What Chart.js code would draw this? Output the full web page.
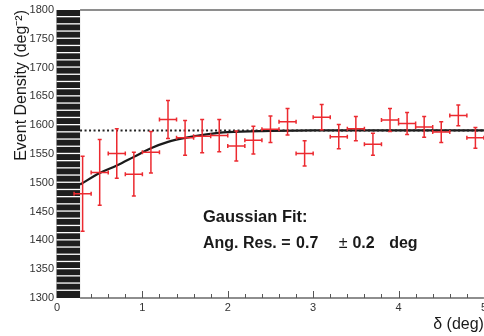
<!DOCTYPE html>
<html>
<head>
<meta charset="utf-8">
<script src="https://cdn.jsdelivr.net/npm/chart.js@4.4.1/dist/chart.umd.min.js"></script>
<style>
  html, body { margin: 0; padding: 0; background: #fff; overflow: hidden; }
  #wrap { width: 490px; height: 336px; }
</style>
</head>
<body>
<div id="wrap"><canvas id="myChart" width="490" height="336"></canvas></div>
<script>
// measured bins (delta, deg) and event density (deg^-2)
const binCenters = [0.3, 0.5, 0.7, 0.9, 1.1, 1.3, 1.5, 1.7, 1.9, 2.1, 2.3, 2.5,
                    2.7, 2.9, 3.1, 3.3, 3.5, 3.7, 3.9, 4.1, 4.3, 4.5, 4.7, 4.9];
const eventDensity = [1481, 1518, 1551, 1515, 1553, 1610, 1578, 1581, 1582, 1564, 1574, 1593,
                      1606, 1551, 1614, 1580, 1594, 1567, 1609, 1603, 1597, 1588, 1617, 1578];
const densityErr = [65, 57, 43, 38, 36, 33, 30, 29, 28, 26, 24, 23,
                    23, 22, 22, 21, 21, 19, 20, 19, 18, 18, 18, 18];
const binHalfWidth = 0.1;

// gaussian fit curve
const fitX = [0.27, 0.5, 0.7, 0.9, 1.1, 1.3, 1.5, 1.75, 2.0, 2.5, 3.0, 4.0, 5.0];
const fitY = [1497, 1517, 1530, 1545, 1560, 1571, 1578, 1584, 1588, 1590, 1591, 1591, 1591];

const plateau = 1591;
const excludedMax = 0.27;

const xTickValues = [0, 1, 2, 3, 4, 5];
const yTickValues = [1300, 1350, 1400, 1450, 1500, 1550, 1600, 1650, 1700, 1750, 1800];

Chart.defaults.font.family = '"Liberation Sans", Arial, Helvetica, sans-serif';
Chart.defaults.color = '#333';

const ctx = document.getElementById('myChart').getContext('2d');

const framePlugin = {
  id: 'frame',
  beforeDatasetsDraw(chart) {
    const { ctx, chartArea: a, scales: { x, y } } = chart;
    const x0 = x.getPixelForValue(0);
    const x1 = x.getPixelForValue(excludedMax);
    ctx.save();
    // hatched excluded region
    ctx.fillStyle = '#1e1e1e';
    ctx.fillRect(x0 - 0.5, a.top, x1 - x0 + 0.5, a.bottom - a.top);
    ctx.fillStyle = '#fff';
    const n = 40;
    const step = (a.bottom - a.top) / n;
    for (let i = 1; i < n; i++) {
      ctx.fillRect(x0 - 0.5, a.top + i * step - 1.2, x1 - x0 + 0.5, 1.3);
    }
    // frame lines
    ctx.strokeStyle = '#6a6a6a';
    ctx.lineWidth = 1.3;
    ctx.beginPath();
    ctx.moveTo(x1, a.top);
    ctx.lineTo(a.right, a.top);
    ctx.moveTo(x1, a.bottom);
    ctx.lineTo(a.right, a.bottom);
    ctx.stroke();
    // ticks pointing inward
    ctx.strokeStyle = '#555';
    ctx.lineWidth = 1;
    ctx.beginPath();
    for (let k = 0; k <= 25; k++) {
      const v = k / 5;
      if (v <= excludedMax) continue;
      const px = Math.round(x.getPixelForValue(v)) + 0.5;
      const len = k % 5 === 0 ? 7 : 4;
      ctx.moveTo(px, a.bottom);
      ctx.lineTo(px, a.bottom - len);
    }
    ctx.stroke();
    ctx.restore();
  },
  afterDatasetsDraw(chart) {
    const { ctx, scales: { x, y } } = chart;
    ctx.save();
    ctx.strokeStyle = '#ec2a30';
    ctx.lineWidth = 1.5;
    ctx.beginPath();
    binCenters.forEach((c, i) => {
      const px = x.getPixelForValue(c);
      const py = y.getPixelForValue(eventDensity[i]);
      const xl = x.getPixelForValue(c - binHalfWidth);
      const xr = x.getPixelForValue(c + binHalfWidth);
      const yt = y.getPixelForValue(eventDensity[i] + densityErr[i]);
      const yb = y.getPixelForValue(eventDensity[i] - densityErr[i]);
      ctx.moveTo(xl, py); ctx.lineTo(xr, py);
      ctx.moveTo(px, yt); ctx.lineTo(px, yb);
      ctx.moveTo(px - 2, yt); ctx.lineTo(px + 2, yt);
      ctx.moveTo(px - 2, yb); ctx.lineTo(px + 2, yb);
      ctx.moveTo(xl, py - 2); ctx.lineTo(xl, py + 2);
      ctx.moveTo(xr, py - 2); ctx.lineTo(xr, py + 2);
    });
    ctx.stroke();
    ctx.restore();
  },
  afterDraw(chart) {
    const { ctx, scales: { x, y } } = chart;
    const fam = '"Liberation Sans", Arial, sans-serif';
    ctx.save();
    ctx.fillStyle = '#1a1a1a';
    ctx.textBaseline = 'alphabetic';
    ctx.textAlign = 'left';
    ctx.font = 'bold 16.5px ' + fam;
    ctx.fillText('Gaussian Fit:', x.getPixelForValue(1.71), y.getPixelForValue(1432));
    const by = y.getPixelForValue(1387);
    ctx.font = 'bold 16px ' + fam;
    ctx.fillText('Ang. Res. =', x.getPixelForValue(1.71), by);
    ctx.fillText('0.7', x.getPixelForValue(2.80), by);
    ctx.fillText('0.2', x.getPixelForValue(3.46), by);
    ctx.fillText('deg', x.getPixelForValue(3.89), by);
    ctx.font = '16px ' + fam;
    ctx.fillText('\u00b1', x.getPixelForValue(3.30), by);
    ctx.restore();
  }
};

const data = {
  datasets: [
    {
      label: 'plateau',
      type: 'line',
      data: [{ x: excludedMax, y: plateau }, { x: 5, y: plateau }],
      borderColor: '#222',
      borderWidth: 2,
      borderDash: [2, 2.5],
      pointRadius: 0,
    },
    {
      label: 'Gaussian fit',
      type: 'line',
      data: fitX.map((v, i) => ({ x: v, y: fitY[i] })),
      borderColor: '#1a1a1a',
      borderWidth: 2.2,
      pointRadius: 0,
      cubicInterpolationMode: 'monotone',
    },
    {
      label: 'Event density',
      data: binCenters.map((v, i) => ({ x: v, y: eventDensity[i] })),
      pointRadius: 0,
      showLine: false,
    },
  ],
};

const config = {
  type: 'scatter',
  data: data,
  options: {
    responsive: false,
    animation: false,
    layout: { padding: { top: 10, right: 5, left: 0, bottom: 0 } },
    plugins: {
      legend: { display: false },
      tooltip: { enabled: false },
    },
    scales: {
      x: {
        type: 'linear',
        min: 0,
        max: 5,
        afterBuildTicks: (scale) => { scale.ticks = xTickValues.map(v => ({ value: v })); },
        afterFit: (scale) => { scale.height = 38; },
        grid: { display: false, drawTicks: false, tickLength: 0 },
        border: { display: false },
        ticks: {
          font: { size: 11 }, color: '#333', padding: 3, maxRotation: 0,
          callback: (value) => String(value),
        },
        title: {
          display: true,
          text: 'δ (deg)',
          align: 'end',
          color: '#1a1a1a',
          font: { size: 16 },
          padding: { top: 0, bottom: 2 },
        },
      },
      y: {
        type: 'linear',
        min: 1300,
        max: 1800,
        afterBuildTicks: (scale) => { scale.ticks = yTickValues.map(v => ({ value: v })); },
        afterFit: (scale) => { scale.width = 57; },
        grid: { display: false, drawTicks: false, tickLength: 0 },
        border: { display: false },
        ticks: {
          font: { size: 11 }, color: '#333', padding: 3,
          callback: (value) => String(value),
        },
        title: {
          display: true,
          text: 'Event Density (deg\u207b\u00b2)',
          align: 'end',
          color: '#1a1a1a',
          font: { size: 16 },
          padding: { top: 12, bottom: 0 },
        },
      },
    },
  },
  plugins: [framePlugin],
};

const myChart = new Chart(ctx, config);
</script>
</body>
</html>
